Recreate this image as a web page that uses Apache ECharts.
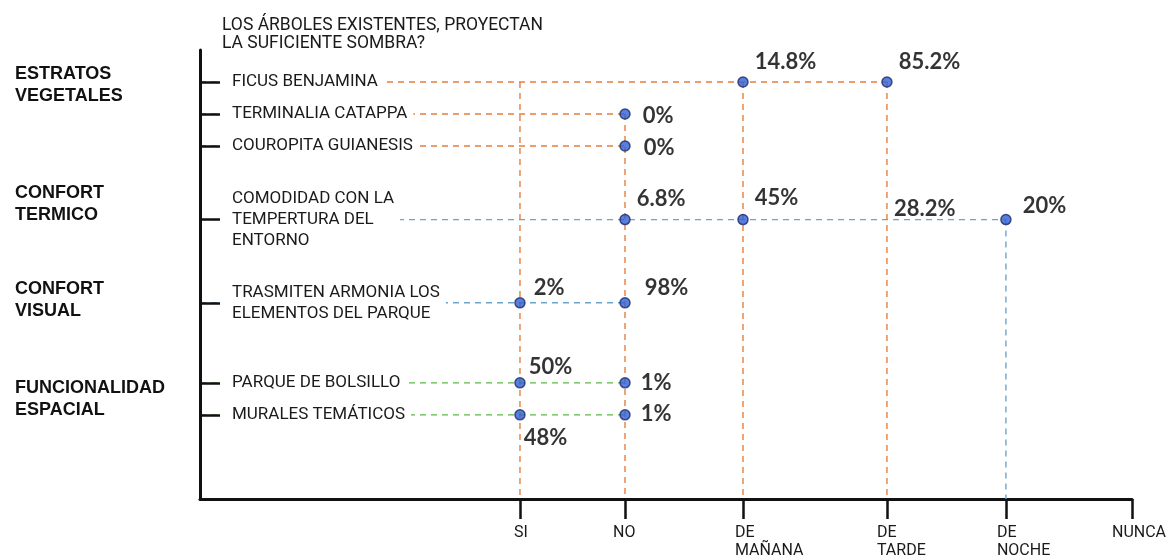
<!DOCTYPE html>
<html><head><meta charset="utf-8">
<script src="https://cdn.jsdelivr.net/npm/echarts@6/dist/echarts.min.js"></script>
<style>html,body{margin:0;padding:0;background:#fff}#c{width:1169px;height:558px}</style>
</head><body><div id="c"></div>
<script>
// ---------- DATA ----------
const titleText = 'LOS ÁRBOLES EXISTENTES, PROYECTAN\nLA SUFICIENTE SOMBRA?';
const columns = ['SI', 'NO', 'DE\nMAÑANA', 'DE\nTARDE', 'DE\nNOCHE', 'NUNCA'];
const rows = [
  'FICUS BENJAMINA',
  'TERMINALIA CATAPPA',
  'COUROPITA GUIANESIS',
  'COMODIDAD CON LA\nTEMPERTURA DEL\nENTORNO',
  'TRASMITEN ARMONIA LOS\nELEMENTOS DEL PARQUE',
  'PARQUE DE BOLSILLO',
  'MURALES TEMÁTICOS'
];
const groups = ['ESTRATOS\nVEGETALES', 'CONFORT\nTERMICO', 'CONFORT\nVISUAL', 'FUNCIONALIDAD\nESPACIAL'];
const rowGroup = [0, 0, 0, 1, 2, 3, 3];
const valSI     = [null, null, null, null, 2, 50, 48];
const valNO     = [null, 0, 0, 6.8, 98, 1, 1];
const valManana = [14.8, null, null, 45, null, null, null];
const valTarde  = [85.2, null, null, 28.2, null, null, null];
const valNoche  = [null, null, null, 20, null, null, null];
const valNunca  = [null, null, null, null, null, null, null];

// ---------- LAYOUT / STYLE ----------
const colValues = [valSI, valNO, valManana, valTarde, valNoche, valNunca];
const colPos = [0, 0.858, 1.822, 2.998, 3.97, 5.0];
const X_MIN = -2.614, X_MAX = 5;
const PX_PER_X = 932 / (X_MAX - X_MIN);
const rowPos = [1, 2, 3, 5.3, 7.9, 10.4, 11.4];
const groupPos = [1.11, 4.81, 7.81, 10.92];
const Y_MAX = 14.03;
const groupColor = ['#e57f3e', '#6aa5cb', '#6aa5cb', '#5cb947'];
const guideTopRow = [0, 1, 0, 0, 3, null];
const guideGroup = [0, 0, 0, 0, 1, null];
const xLabelShiftPx = [-6, -12, -8, -10, -9, -20];
// label nudges: [dx to label left, dy to label centre] in px, keyed row,col
const labelNudge = {
  '0,2': [11, -20], '0,3': [11, -20],
  '1,1': [17, 2], '2,1': [18, 2],
  '3,1': [11, -21], '3,2': [11, -22], '3,3': [12, -11], '3,4': [16, -14],
  '4,0': [13, -15], '4,1': [19, -15],
  '5,0': [8, -16], '5,1': [15, 0],
  '6,0': [3, 23], '6,1': [15, -1]
};
const hiddenMarker = {'3,3': true};
const DASH = [6, 5];

const series = [];
rows.forEach((name, r) => {
  let last = -1;
  colValues.forEach((arr, c) => { if (arr[r] !== null) last = c; });
  if (last < 0) return;
  series.push({
    type: 'line', silent: true, symbol: 'none', z: 1,
    lineStyle: {color: groupColor[rowGroup[r]], width: 1.4, type: DASH},
    data: [[X_MIN, rowPos[r]], [colPos[last], rowPos[r]]]
  });
});
columns.forEach((name, c) => {
  if (guideTopRow[c] === null) return;
  series.push({
    type: 'line', silent: true, symbol: 'none', z: 1,
    lineStyle: {color: groupColor[guideGroup[c]], width: 1.4, type: DASH},
    data: [[colPos[c], rowPos[guideTopRow[c]]], [colPos[c], Y_MAX]]
  });
});
const pts = [];
rows.forEach((name, r) => {
  colValues.forEach((arr, c) => {
    const v = arr[r];
    if (v === null) return;
    const key = r + ',' + c;
    const n = labelNudge[key] || [12, -18];
    pts.push({
      value: [colPos[c], rowPos[r], v],
      symbolSize: hiddenMarker[key] ? 0 : 10,
      label: {offset: [n[0] - 5, n[1]]}
    });
  });
});
series.push({
  type: 'scatter', z: 4, data: pts,
  itemStyle: {color: '#2f5fd6', borderColor: '#1b2a66', borderWidth: 1.5},
  label: {
    show: true, position: 'right', distance: 0,
    formatter: p => p.value[2] + '%',
    fontFamily: 'Lato', fontWeight: 'bold', fontSize: 22, color: '#000'
  }
});

function nearest(arr, v) {
  let bi = 0, bd = Infinity;
  arr.forEach((a, i) => { const d = Math.abs(a - v); if (d < bd) { bd = d; bi = i; } });
  return bi;
}
const xLabelVals = colPos.map((p, i) => p + xLabelShiftPx[i] / PX_PER_X);

const chart = echarts.init(document.getElementById('c'), null, {renderer: 'canvas'});
chart.setOption({
  backgroundColor: '#fff',
  animation: false,
  title: {
    text: titleText, left: 222, top: 17, padding: 0,
    textStyle: {fontFamily: 'Roboto', fontWeight: 'normal', fontSize: 17.5, lineHeight: 18, color: '#1a1a1a'}
  },
  grid: {left: 200, right: 37, top: 50, bottom: 59, outerBoundsMode: 'none', containLabel: false},
  xAxis: {
    type: 'value', min: X_MIN, max: X_MAX, position: 'bottom',
    splitLine: {show: false},
    axisLine: {show: true, onZero: false, lineStyle: {color: '#111', width: 3}},
    axisTick: {show: true, customValues: colPos, length: 20, lineStyle: {color: '#111', width: 2.5}},
    axisLabel: {
      customValues: xLabelVals, align: 'left', verticalAlign: 'top', margin: 25,
      fontFamily: 'Roboto', fontSize: 16, lineHeight: 18, color: '#1a1a1a',
      formatter: v => columns[nearest(xLabelVals, v)]
    }
  },
  yAxis: [{
    type: 'value', inverse: true, min: 0, max: Y_MAX, position: 'left', z: 10,
    splitLine: {show: false},
    axisLine: {show: true, onZero: false, lineStyle: {color: '#111', width: 3}},
    axisTick: {show: true, inside: true, customValues: rowPos, length: 20, lineStyle: {color: '#111', width: 2.5}},
    axisLabel: {
      customValues: rowPos, inside: true, align: 'left', margin: 21,
      backgroundColor: '#fff', padding: [1, 6, 1, 11],
      fontFamily: 'Roboto', fontSize: 17, lineHeight: 21, color: '#1a1a1a',
      formatter: v => rows[nearest(rowPos, v)]
    }
  }, {
    type: 'value', inverse: true, min: 0, max: Y_MAX, position: 'left',
    splitLine: {show: false},
    axisLine: {show: false, onZero: false},
    axisTick: {show: false},
    axisLabel: {
      customValues: groupPos, align: 'left', margin: 185,
      fontFamily: 'Liberation Sans', fontWeight: 'bold', fontSize: 18, lineHeight: 22, color: '#111',
      formatter: v => groups[nearest(groupPos, v)]
    }
  }],
  series: series
});
</script></body></html>
